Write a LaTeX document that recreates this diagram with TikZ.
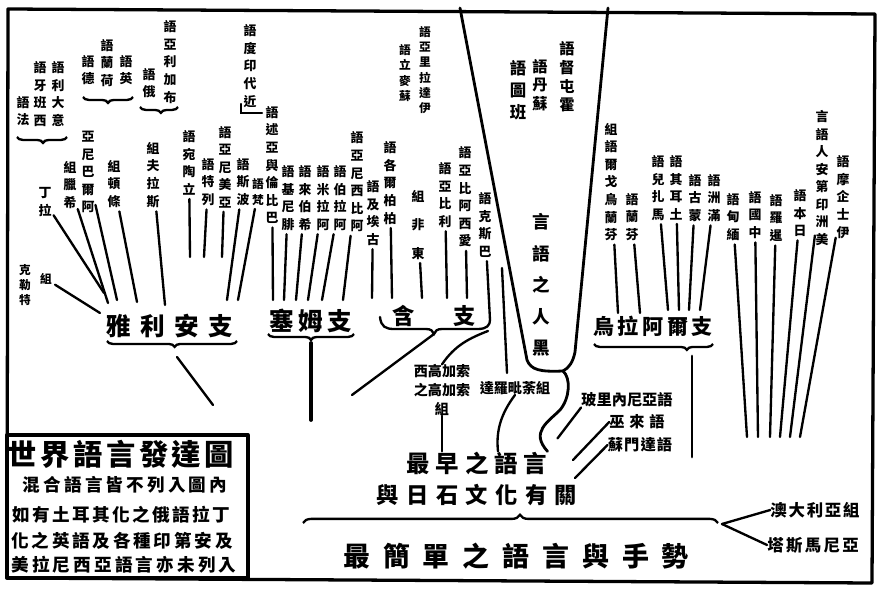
\documentclass[tikz,border=0pt]{standalone}
\usepackage{fontspec}
\setmainfont{Noto Sans CJK TC}
\usetikzlibrary{calc,decorations.pathreplacing}

% helpers: stack a word upward / downward, or spread it out
\long\def\pickone#1#2{#1}
\long\def\picktwo#1#2{#2}
\def\upaux#1#2\upend{\ifx\relax#2\relax\expandafter\pickone\else\expandafter\picktwo\fi{#1}{\upaux#2\upend\\#1}}
\newcommand\vup[1]{\upaux#1\upend}
\def\dnaux#1#2\dnend{\ifx\relax#2\relax\expandafter\pickone\else\expandafter\picktwo\fi{#1}{#1\\\dnaux#2\dnend}}
\newcommand\vdown[1]{\dnaux#1\dnend}
\def\gpaux#1#2\gpend{\ifx\relax#2\relax\expandafter\pickone\else\expandafter\picktwo\fi{#1}{#1\hspace{\gpwidth}\gpaux#2\gpend}}
\newcommand\gapped[2]{\def\gpwidth{#1}\gpaux#2\gpend}

\begin{document}
\begin{tikzpicture}[x=0.03cm, y=-0.03cm,
    lbl/.style={align=center, inner sep=0pt, font=\fontsize{11}{15}\selectfont\bfseries},
    small/.style={align=center, inner sep=0pt, font=\fontsize{10}{13}\selectfont\bfseries},
    hlbl/.style={align=center, inner sep=0pt, font=\fontsize{12}{15}\selectfont\bfseries},
    branch/.style={inner sep=0pt, font=\fontsize{20}{22}\selectfont\bfseries},
    keytext/.style={inner sep=0pt, font=\fontsize{15}{17}\selectfont\bfseries},
    ln/.style={line width=2pt, line cap=round},
    tie/.style={ln, shorten <=3pt},
    heavy/.style={line width=3.2pt, line cap=round},
    frame/.style={line width=2.8pt, line join=round},
    brcdown/.style={line width=2pt, decorate, decoration={brace, mirror, amplitude=5pt, aspect=#1}},
    brcdown/.default=0.5,
    brcup/.style={line width=2pt, decorate, decoration={brace, amplitude=7pt, aspect=#1}},
    brcup/.default=0.5
]
\useasboundingbox (0,0) rectangle (884,592);

% frame and key
\draw[frame] (8,9) -- (875,14) -- (872,583) -- (7,578) -- cycle;
\draw[frame] (7,435) rectangle (248,578);
\node[inner sep=0pt, font=\fontsize{25}{27}\selectfont\bfseries] (title) at (121,454) {\gapped{3pt}{世界語言發達圖}};
\node[keytext] (key1) at (125,485) {\gapped{2.7pt}{混合語言皆不列入圖內}};
\node[keytext] (key2) at (121,515) {\gapped{2.1pt}{如有土耳其化之俄語拉丁}};
\node[keytext] (key3) at (122,541) {\gapped{2.4pt}{化之英語及各種印第安及}};
\node[keytext] (key4) at (124,565) {\gapped{2.7pt}{美拉尼西亞語言亦未列入}};

% branches
\node[branch, font=\fontsize{21}{23}\selectfont\bfseries] (arya) at (170,326) {\gapped{8pt}{雅利安支}};
\node[branch, font=\fontsize{21}{23}\selectfont\bfseries] (sem) at (311,321) {\gapped{4pt}{塞姆支}};
\node[branch, font=\fontsize{19}{21}\selectfont\bfseries] (ham) at (434,316) {含\hspace{33pt}支};
\node[branch, font=\fontsize{18}{20}\selectfont\bfseries] (ural) at (653,326) {\gapped{3pt}{烏拉阿爾支}};
\node[branch] (early) at (477,463) {\gapped{5pt}{最早之語言}};
\node[branch, font=\fontsize{19}{21}\selectfont\bfseries] (neo) at (477,495) {\gapped{6.3pt}{與日石文化有關}};
\node[branch, font=\fontsize{23}{25}\selectfont\bfseries] (simple) at (516,556) {\gapped{11pt}{最簡單之語言與手勢}};
\node[hlbl, font=\fontsize{14}{16}\selectfont\bfseries] (aus) at (815,510) {\gapped{1.5pt}{澳大利亞組}};
\node[hlbl, font=\fontsize{14}{16}\selectfont\bfseries] (tas) at (813,545) {\gapped{2pt}{塔斯馬尼亞}};

% aryan labels
\node[lbl] (fr) at (23,111) {\vup{法語}};
\node[lbl] (es) at (40,94) {\vup{西班牙語}};
\node[lbl] (itl) at (58,94) {\vup{意大利語}};
\node[lbl] (la) at (45,202) {\vup{拉丁}};
\node[small] (ce) at (25,285) {\vdown{克勒特}};
\node[small] (ce2) at (46,279) {組};
\node[lbl] (gr) at (70,185) {\vup{希臘組}};
\node[lbl] (al) at (88,172) {\vup{阿爾巴尼亞}};
\node[lbl] (de) at (88,70) {\vup{德語}};
\node[lbl] (nl) at (107,63) {\vup{荷蘭語}};
\node[lbl] (en) at (126,70) {\vup{英語}};
\node[lbl] (te) at (114,184) {\vup{條頓組}};
\node[lbl] (ru) at (149,83) {\vup{俄語}};
\node[lbl] (bg) at (170,62) {\vup{布加利亞語}};
\node[lbl] (sl) at (153,175) {\vup{斯拉夫組}};
\node[lbl] (lt) at (189,163) {\vup{立陶宛語}};
\node[lbl] (lv) at (208,182) {\vup{列特語}};
\node[lbl] (hy) at (225,167) {\vup{亞美尼亞語}};
\node[lbl] (fa) at (243,182) {\vup{波斯語}};
\node[small] (sa) at (258,192) {\vup{梵語}};
\node[lbl] (ind) at (250,66) {\vup{近代印度語}};

% semitic and hamitic labels
\node[lbl] (bab) at (272,165) {\vup{巴比倫與亞述語}};
\node[lbl] (phe) at (288,198) {\vup{腓尼基語}};
\node[lbl] (heb) at (305,198) {\vup{希伯來語}};
\node[lbl] (arm) at (323,198) {\vup{阿拉米語}};
\node[lbl] (ara) at (340,198) {\vup{阿拉伯語}};
\node[lbl] (aby) at (357,182) {\vup{阿比西尼亞語}};
\node[lbl] (egy) at (373,213) {\vup{古埃及語}};
\node[lbl] (ber) at (390,183) {\vup{柏柏爾各語}};
\node[lbl, font=\fontsize{11}{24}\selectfont\bfseries] (eaf) at (418,225) {\vup{東非組}};
\node[lbl] (lib) at (445,195) {\vup{利比亞語}};
\node[lbl] (cus) at (465,197) {\vup{愛西阿比亞語}};
\node[lbl] (bas) at (485,225) {\vup{巴斯克語}};
\node[small] (sum) at (405,73) {\vup{蘇麥立語}};
\node[small] (etr) at (425,70) {\vup{伊達拉里亞語}};

% negro languages
\node[lbl, font=\fontsize{14}{19}\selectfont\bfseries] (ban) at (518,90) {\vup{班圖語}};
\node[lbl, font=\fontsize{13}{16}\selectfont\bfseries] (sud) at (540,85) {\vup{蘇丹語}};
\node[lbl, font=\fontsize{13}{16}\selectfont\bfseries] (hot) at (567,77) {\vup{霍屯督語}};
\node[lbl, font=\fontsize{15}{27}\selectfont\bfseries] (negro) at (541,285) {\vup{黑人之語言}};

% ural-altaic and others
\node[lbl] (fin) at (611,182) {\vup{芬蘭烏戈爾語組}};
\node[lbl] (fi) at (632,217) {\vup{芬蘭語}};
\node[lbl] (hu) at (658,188) {\vup{馬扎兒語}};
\node[lbl] (tr) at (676,188) {\vup{土耳其語}};
\node[lbl] (mn) at (695,198) {\vup{蒙古語}};
\node[lbl] (mc) at (714,198) {\vup{滿洲語}};
\node[lbl] (my) at (733,217) {\vup{緬甸語}};
\node[lbl] (zh) at (755,215) {\vup{中國語}};
\node[lbl] (th) at (776,218) {\vup{暹羅語}};
\node[lbl] (ja) at (800,213) {\vup{日本語}};
\node[lbl] (am) at (822,178) {\vup{美洲印第安人語言}};
\node[lbl] (esk) at (843,197) {\vup{伊士企摩語}};

% caucasus, dravidian, malay-polynesian
\node[hlbl, font=\fontsize{12}{16}\selectfont\bfseries] (cau) at (442,390) {西高加索\\之高加索\\組};
\node[hlbl] (dra) at (515,388) {達羅毗荼組};
\node[hlbl, font=\fontsize{13}{15}\selectfont\bfseries] (poly) at (627,400) {玻里內尼亞語};
\node[hlbl, font=\fontsize{13}{15}\selectfont\bfseries] (mal) at (637,422) {\gapped{4pt}{巫來語}};
\node[hlbl, font=\fontsize{13}{15}\selectfont\bfseries] (sun) at (640,445) {\gapped{1pt}{蘇門達語}};

% free ends
\coordinate (ce-e) at (100,313);
\coordinate (la-e) at (104,293);
\coordinate (gr-e) at (108,303);
\coordinate (al-e) at (117,300);
\coordinate (te-e) at (137,302);
\coordinate (sl-e) at (165,305);
\coordinate (lt-e) at (190,257);
\coordinate (lv-e) at (204,257);
\coordinate (hy-e) at (222,257);
\coordinate (fa-e) at (227,300);
\coordinate (sa-e) at (238,300);
\coordinate (bab-e) at (273,300);
\coordinate (phe-e) at (284,300);
\coordinate (heb-e) at (296,300);
\coordinate (arm-e) at (308,300);
\coordinate (ara-e) at (322,300);
\coordinate (aby-e) at (343,300);
\coordinate (egy-e) at (372,298);
\coordinate (ber-e) at (392,298);
\coordinate (eaf-e) at (422,298);
\coordinate (lib-e) at (447,298);
\coordinate (cus-e) at (467,298);
\coordinate (bas-e) at (490,320);
\coordinate (fin-e) at (618,313);
\coordinate (fi-e) at (640,313);
\coordinate (hu-e) at (668,310);
\coordinate (tr-e) at (679,310);
\coordinate (mn-e) at (689,310);
\coordinate (mc-e) at (700,310);
\coordinate (my-e) at (747,437);
\coordinate (zh-e) at (758,437);
\coordinate (th-e) at (770,437);
\coordinate (ja-e) at (780,437);
\coordinate (am-e) at (790,437);
\coordinate (esk-e) at (800,437);

\foreach \n in {la,gr,al,te,sl,lt,lv,hy,fa,sa,bab,phe,heb,arm,ara,aby,egy,ber,eaf,lib,cus,bas,fin,fi,hu,tr,mn,mc,my,zh,th,ja,am,esk}
  \draw[tie] (\n) -- (\n-e);
\draw[tie] (ce2) -- (ce-e);

% small braces over the groups
\draw[brcdown=0.52] (17,137) -- (67,137);
\draw[brcdown] (83,97) -- (133,97);
\draw[brcdown=0.55] (140,107) -- (178,107);
\draw[ln] (241,104) -- (241,113) -- (262,113);

% aryan, semitic, hamitic, ural braces
\draw[brcdown=0.52] (107,341) -- (237,341);
\coordinate (arya-t) at (177,357);
\coordinate (arya-e) at (213,405);
\draw[ln] (arya-t) -- (arya-e);
\draw[brcdown=0.5] (268,334) -- (354,334);
\coordinate (sem-t) at (311,343);
\coordinate (sem-e) at (311,420);
\draw[heavy] (sem-t) -- (sem-e);
\draw[ln] (380,317) .. controls (381,327) and (386,329) .. (394,329) -- (426,329)
  .. controls (431,329) and (433,331) .. (434,334) .. controls (435,331) and (437,329) .. (442,329)
  -- (478,329) .. controls (487,329) and (490,325) .. (bas-e);
\coordinate (ham-t) at (434,334);
\coordinate (ham-e) at (352,395);
\draw[ln] (ham-t) -- (ham-e);
\draw[ln] (488,331) .. controls (470,338) and (455,345) .. (cau.north);
\draw[brcdown=0.78] (594,344) -- (713,344);
\coordinate (ural-t) at (692,356);
\coordinate (ural-e) at (692,457);
\draw[heavy, line width=2.4pt] (ural-t) -- (ural-e);

% the funnel of the negro languages
\coordinate (fun-l) at (460,8);
\coordinate (fun-r) at (608,8);
\draw[ln, line width=2.4pt] (fun-l) -- (527,360) .. controls (531,370) and (540,372) .. (563,371);
\draw[ln, line width=2.4pt] (fun-r) -- (575,352) .. controls (573,362) and (569,368) .. (563,371)
  .. controls (571,378) and (570,398) .. (560,410) .. controls (548,422) and (530,432) .. (early.north east);
\coordinate (mid-t) at (502,268);
\coordinate (mid-e) at (507,373);
\draw[ln] (mid-t) -- (mid-e);

% into the earliest languages
\draw[ln] (cau.south) -- (early.north -| cau.south);
\draw[ln] (dra.south) .. controls (500,415) and (496,432) .. (early.north -| 498,0);
\draw[ln] (early.north east) ++(10,-13) -- (poly.south west);
\draw[ln] (573,460) -- (mal.west);
\draw[ln] (575,478) -- (sun.west);

% the bottom brace and australia
\draw[brcup=0.523] (303,523) -- (718,523);
\coordinate (root) at (722,524);
\draw[ln] (root) -- (aus.west);
\draw[ln] (root) -- (tas.west);
\end{tikzpicture}
\end{document}
